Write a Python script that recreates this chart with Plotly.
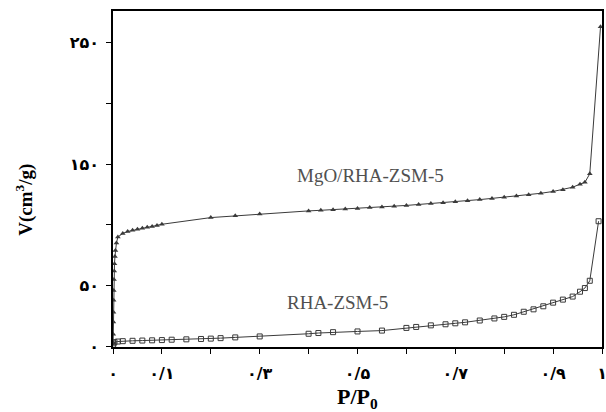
import plotly.graph_objects as go

# ---- data ----
x_mgo = [0.0003, 0.0005, 0.0008, 0.001, 0.0013, 0.0016, 0.002, 0.0025, 0.003, 0.004,
         0.005, 0.007, 0.01, 0.02, 0.03, 0.04, 0.05, 0.06, 0.07, 0.08, 0.09, 0.10,
         0.2, 0.25, 0.3, 0.4, 0.425, 0.45, 0.475, 0.5, 0.525, 0.55, 0.575, 0.6, 0.625,
         0.65, 0.675, 0.7, 0.725, 0.75, 0.775, 0.8, 0.825, 0.85, 0.875, 0.9, 0.92,
         0.94, 0.955, 0.965, 0.975, 0.997]
v_mgo = [3, 10, 20, 28, 38, 46, 55, 62, 68, 74,
         79, 85, 90, 93, 94.5, 95.5, 96.5, 97.3, 98, 98.7, 99.5, 100.5,
         106, 107.5, 109, 111.5, 112, 112.5, 113, 113.5, 114.2, 114.8, 115.4, 116, 116.8,
         117.5, 118.2, 119, 119.9, 120.8, 121.8, 122.8, 123.8, 124.8, 126, 127.5, 129,
         131, 133.5, 135, 142, 263]

x_rha = [0.0003, 0.001, 0.003, 0.01, 0.02, 0.04, 0.06, 0.08, 0.1, 0.12, 0.15, 0.18,
         0.2, 0.22, 0.25, 0.3, 0.4, 0.42, 0.45, 0.5, 0.55, 0.6, 0.62, 0.65, 0.68, 0.7,
         0.72, 0.75, 0.78, 0.8, 0.82, 0.84, 0.86, 0.88, 0.9, 0.92, 0.94, 0.955, 0.965,
         0.975, 0.993]
v_rha = [1, 2.5, 3.5, 4, 4.3, 4.6, 4.8, 5, 5.2, 5.5, 5.8, 6.1,
         6.4, 6.8, 7.4, 8.2, 10.4, 11, 11.7, 12.3, 13, 15.2, 16, 17.3, 18.2, 19,
         19.8, 21.3, 23, 24.3, 26, 28.5, 30.5, 33, 36, 38.5, 41, 45, 48,
         54, 103]

x_tickvals = [0, 0.1, 0.2, 0.3, 0.4, 0.5, 0.6, 0.7, 0.8, 0.9, 1.0]
x_ticktext = ["۰", "۰/۱", "", "۰/۳", "", "۰/۵", "", "۰/۷", "", "۰/۹", "۱"]
y_tickvals = [0, 50, 100, 150, 200, 250]
y_ticktext = ["۰", "۵۰", "", "۱۵۰", "", "۲۵۰"]

fig = go.Figure()
fig.add_trace(go.Scatter(x=x_mgo, y=v_mgo, mode="lines+markers", name="MgO/RHA-ZSM-5",
                         line=dict(color="#3a3a3a", width=1),
                         marker=dict(symbol="triangle-up", size=5, color="#3a3a3a")))
fig.add_trace(go.Scatter(x=x_rha, y=v_rha, mode="lines+markers", name="RHA-ZSM-5",
                         line=dict(color="#3a3a3a", width=1),
                         marker=dict(symbol="square-open", size=5, color="#3a3a3a",
                                     line=dict(width=1))))

tick_font = dict(family="DejaVu Sans", size=16, color="black", weight="bold")
fig.update_xaxes(range=[0, 1.0], tickvals=x_tickvals, ticktext=x_ticktext,
                 showline=True, mirror=True, linecolor="black", linewidth=1.5,
                 ticks="outside", ticklen=5, tickcolor="black", showgrid=False,
                 zeroline=False, tickfont=tick_font, ticklabelstandoff=6,
                 automargin=False, ticklabeloverflow="allow")
fig.update_yaxes(range=[-0.5, 276], tickvals=y_tickvals, ticktext=y_ticktext,
                 showline=True, mirror=True, linecolor="black", linewidth=1.5,
                 ticks="outside", ticklen=5, tickcolor="black", showgrid=False,
                 zeroline=False, tickfont=tick_font, ticklabelstandoff=4,
                 automargin=False, ticklabeloverflow="allow")

serif = "Liberation Serif, Times New Roman, serif"
common = dict(showarrow=False, xanchor="center", yanchor="middle")
fig.add_annotation(x=0.527, y=141, xref="x", yref="y", text="MgO/RHA-ZSM-5",
                   font=dict(family=serif, size=19, color="#505050"), **common)
fig.add_annotation(x=0.46, y=36, xref="x", yref="y", text="RHA-ZSM-5",
                   font=dict(family=serif, size=19, color="#505050"), **common)
fig.add_annotation(x=0.499, y=-0.152, xref="paper", yref="paper", text="<b>P/P<sub>0</sub></b>",
                   font=dict(family=serif, size=22, color="black"), **common)
fig.add_annotation(x=-0.18, y=0.438, xref="paper", yref="paper",
                   text="<b>V(cm<sup>3</sup>/g)</b>", textangle=-90,
                   font=dict(family=serif, size=19, color="black"), **common)

fig.update_layout(width=606, height=412, showlegend=False,
                  margin=dict(l=113, r=4, t=11, b=65, autoexpand=False),
                  plot_bgcolor="white", paper_bgcolor="white")

fig.write_html("out.html", config={"displayModeBar": False},
               post_script="document.body.style.margin='0px';")
